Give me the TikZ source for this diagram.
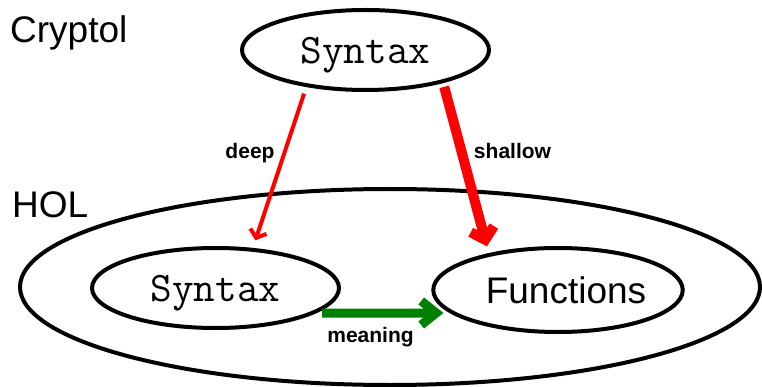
\documentclass[tikz,border=0pt]{standalone}
\usepackage{fontspec}
\setmainfont{Liberation Sans}
\usetikzlibrary{arrows.meta,shapes.geometric}
\definecolor{arrred}{RGB}{255,0,0}
\definecolor{arrgreen}{RGB}{0,128,0}
\begin{document}
\begin{tikzpicture}[x=1pt,y=-1pt,
  oval/.style={ellipse, draw=black, line width=4pt, inner sep=0pt},
  bigtext/.style={font=\fontsize{37}{40}\selectfont},
  monotext/.style={font=\ttfamily\fontsize{42}{45}\selectfont, text depth=0pt},
  plain/.style={bigtext, anchor=base west, inner sep=0pt},
  lab/.style={font=\bfseries\fontsize{21}{24}\selectfont, anchor=base, inner sep=0pt},
  deeparrow/.style={draw=arrred, line width=4pt, -{Straight Barb[length=7pt,width=17pt]}},
  shallowarrow/.style={draw=arrred, line width=10pt, -{Straight Barb[length=11pt,width=24pt]}},
  meaningarrow/.style={draw=arrgreen, line width=9pt, -{Straight Barb[length=15pt,width=24pt]}}
]
\useasboundingbox (0,0) rectangle (762,387);
\node[oval, minimum width=740pt, minimum height=196pt] (hol) at (390,287) {};
\node[oval, monotext, minimum width=247pt, minimum height=80pt] (top) at (365.5,50) {Syntax};
\node[oval, monotext, minimum width=247pt, minimum height=80pt] (syn) at (215.5,288) {Syntax};
\node[oval, bigtext, minimum width=248pt, minimum height=84pt] (fun) at (558,290) {\hspace*{16pt}Functions};
\node[plain] (cryptol) at (10,43) {Cryptol};
\node[plain] (holl) at (12,218) {HOL};
\draw[deeparrow, shorten <=7pt, shorten >=8pt] (top.-148.8) -- (syn.47.8);
\draw[shallowarrow, shorten <=4pt, shorten >=7pt] (top.-23.1) -- (fun.152.7);
\draw[meaningarrow, shorten <=6pt, shorten >=6.5pt] (syn.-14.9) -- (fun.192.2);
\node[lab] (deeplab) at (250,159) {deep};
\node[lab] (shallowlab) at (512.5,159) {shallow};
\node[lab] (meaninglab) at (370.5,342) {meaning};
\end{tikzpicture}
\end{document}
